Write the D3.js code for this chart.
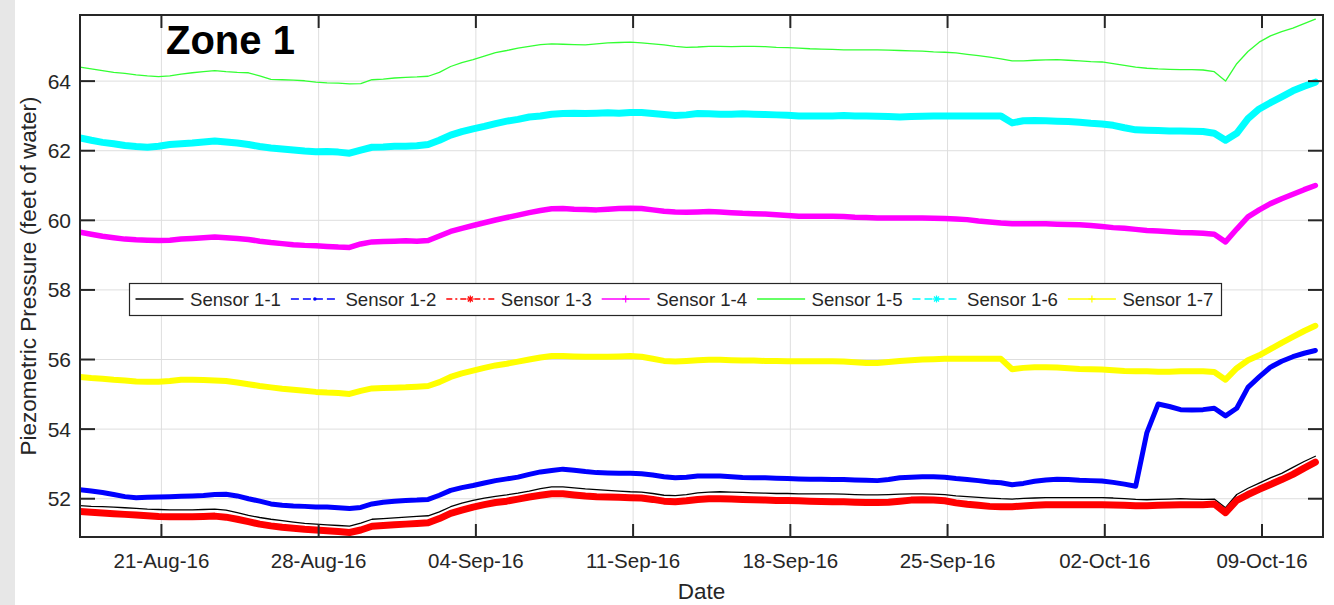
<!DOCTYPE html>
<html>
<head>
<meta charset="utf-8">
<script src="https://cdn.jsdelivr.net/npm/d3@7"></script>
<style>
  html, body { margin: 0; padding: 0; background: #fff; }
  svg { display: block; }
  text { font-family: "Liberation Sans", Arial, Helvetica, sans-serif; }
</style>
</head>
<body>
<svg id="chart" width="1334" height="605"></svg>
<script>
// Piezometric pressure readings, Zone 1, sampled every 12 hours from 17-Aug-2016 09:00
const startTime = Date.UTC(2016, 7, 17, 9, 0);
const stepHours = 12;

const sensorNames = ["Sensor 1-1", "Sensor 1-2", "Sensor 1-3", "Sensor 1-4", "Sensor 1-5", "Sensor 1-6", "Sensor 1-7"];

const sensor1_1 = [51.80,51.78,51.77,51.76,51.74,51.72,51.70,51.69,51.68,51.68,51.68,51.69,51.70,51.67,51.60,51.52,51.46,51.41,51.37,51.33,
  51.29,51.27,51.25,51.23,51.21,51.30,51.41,51.43,51.45,51.47,51.49,51.51,51.62,51.77,51.87,51.95,52.02,52.07,52.11,52.16,
  52.22,52.29,52.34,52.34,52.31,52.28,52.26,52.24,52.22,52.20,52.19,52.15,52.10,52.09,52.12,52.17,52.19,52.20,52.19,52.18,
  52.17,52.16,52.15,52.15,52.14,52.14,52.14,52.14,52.13,52.12,52.11,52.11,52.12,52.13,52.14,52.14,52.13,52.12,52.08,52.06,
  52.04,52.02,52.00,51.99,52.01,52.02,52.03,52.03,52.03,52.03,52.03,52.03,52.02,52.00,51.98,51.97,51.98,51.99,52.00,51.99,
  51.98,51.99,51.74,52.12,52.30,52.45,52.60,52.73,52.90,53.07,53.22];

const sensor1_2 = [52.26,52.22,52.18,52.12,52.06,52.03,52.04,52.05,52.06,52.07,52.08,52.09,52.12,52.13,52.08,52.00,51.93,51.85,51.81,51.79,
  51.78,51.76,51.76,51.74,51.72,51.75,51.85,51.90,51.93,51.95,51.96,51.98,52.10,52.24,52.32,52.38,52.45,52.52,52.57,52.62,
  52.70,52.77,52.81,52.85,52.82,52.78,52.75,52.74,52.73,52.73,52.72,52.68,52.63,52.60,52.62,52.65,52.65,52.65,52.63,52.61,
  52.60,52.60,52.59,52.58,52.57,52.56,52.56,52.55,52.55,52.54,52.53,52.52,52.55,52.60,52.62,52.63,52.63,52.62,52.58,52.55,
  52.52,52.48,52.46,52.40,52.44,52.50,52.54,52.56,52.55,52.53,52.52,52.51,52.47,52.42,52.36,53.90,54.72,54.65,54.56,54.55,
  54.56,54.60,54.38,54.60,55.20,55.50,55.78,55.95,56.08,56.18,56.26];

const sensor1_3 = [51.63,51.61,51.59,51.57,51.55,51.53,51.51,51.49,51.48,51.48,51.48,51.49,51.50,51.47,51.41,51.34,51.27,51.22,51.18,51.15,
  51.12,51.10,51.08,51.06,51.03,51.10,51.21,51.23,51.25,51.27,51.29,51.31,51.43,51.58,51.67,51.76,51.83,51.89,51.93,51.99,
  52.05,52.10,52.14,52.14,52.11,52.08,52.06,52.05,52.04,52.03,52.02,51.98,51.93,51.91,51.94,51.98,52.00,52.00,51.99,51.98,
  51.97,51.96,51.95,51.95,51.94,51.93,51.92,51.91,51.91,51.90,51.89,51.89,51.90,51.93,51.96,51.97,51.96,51.94,51.88,51.84,
  51.81,51.78,51.77,51.77,51.79,51.81,51.83,51.83,51.83,51.83,51.83,51.83,51.82,51.81,51.80,51.80,51.81,51.82,51.83,51.83,
  51.83,51.85,51.60,51.95,52.12,52.27,52.41,52.55,52.70,52.88,53.05];

const sensor1_4 = [59.66,59.60,59.54,59.50,59.46,59.44,59.43,59.42,59.43,59.46,59.48,59.50,59.52,59.50,59.48,59.45,59.40,59.36,59.33,59.30,
  59.28,59.27,59.25,59.23,59.22,59.32,59.38,59.39,59.40,59.41,59.40,59.42,59.55,59.68,59.77,59.85,59.93,60.01,60.08,60.15,
  60.22,60.28,60.33,60.34,60.32,60.31,60.30,60.32,60.34,60.35,60.34,60.30,60.26,60.24,60.23,60.24,60.25,60.24,60.22,60.20,
  60.19,60.18,60.16,60.14,60.12,60.12,60.12,60.12,60.11,60.09,60.08,60.07,60.07,60.07,60.07,60.07,60.06,60.05,60.04,60.02,
  59.98,59.95,59.92,59.90,59.90,59.90,59.90,59.89,59.88,59.87,59.85,59.82,59.79,59.77,59.74,59.71,59.69,59.67,59.65,59.64,
  59.63,59.60,59.38,59.75,60.10,60.30,60.48,60.62,60.75,60.88,61.00];

const sensor1_5 = [64.40,64.35,64.30,64.25,64.22,64.18,64.15,64.13,64.15,64.20,64.24,64.27,64.30,64.27,64.25,64.24,64.15,64.05,64.04,64.03,
  64.01,63.97,63.95,63.94,63.92,63.93,64.04,64.06,64.09,64.11,64.12,64.14,64.25,64.42,64.53,64.62,64.72,64.82,64.88,64.95,
  65.00,65.05,65.07,65.06,65.05,65.04,65.07,65.10,65.11,65.12,65.10,65.07,65.04,65.00,64.97,64.98,65.00,65.00,64.99,65.00,
  65.00,64.99,64.97,64.96,64.95,64.93,64.92,64.91,64.90,64.90,64.90,64.90,64.89,64.88,64.87,64.86,64.84,64.83,64.81,64.77,
  64.73,64.69,64.64,64.58,64.58,64.60,64.61,64.62,64.60,64.58,64.56,64.55,64.50,64.45,64.40,64.37,64.35,64.34,64.33,64.33,
  64.32,64.27,64.00,64.50,64.85,65.12,65.30,65.42,65.52,65.65,65.78];

const sensor1_6 = [62.37,62.30,62.24,62.20,62.15,62.12,62.10,62.13,62.18,62.20,62.22,62.25,62.28,62.25,62.22,62.18,62.12,62.08,62.05,62.02,
  61.99,61.97,61.98,61.96,61.93,62.02,62.10,62.11,62.13,62.13,62.14,62.18,62.30,62.45,62.55,62.63,62.70,62.78,62.85,62.90,
  62.97,63.00,63.05,63.07,63.08,63.07,63.08,63.09,63.08,63.10,63.10,63.07,63.04,63.01,63.03,63.07,63.06,63.05,63.05,63.06,
  63.05,63.04,63.03,63.02,63.00,63.00,63.00,63.00,63.01,63.00,63.00,62.99,62.98,62.97,62.98,62.99,63.00,63.00,63.00,63.00,
  63.00,63.00,63.00,62.80,62.86,62.87,62.86,62.85,62.84,62.82,62.79,62.77,62.73,62.66,62.60,62.59,62.58,62.57,62.57,62.56,
  62.55,62.50,62.30,62.50,62.92,63.20,63.38,63.55,63.72,63.85,63.97];

const sensor1_7 = [55.50,55.47,55.45,55.42,55.40,55.37,55.36,55.36,55.38,55.42,55.42,55.41,55.40,55.38,55.34,55.29,55.24,55.20,55.16,55.13,
  55.10,55.07,55.05,55.04,55.01,55.10,55.17,55.18,55.19,55.20,55.22,55.24,55.35,55.50,55.60,55.68,55.76,55.83,55.88,55.94,
  56.00,56.06,56.10,56.10,56.09,56.08,56.08,56.08,56.09,56.10,56.08,56.02,55.96,55.94,55.96,55.98,55.99,55.99,55.98,55.97,
  55.97,55.96,55.96,55.95,55.95,55.95,55.95,55.95,55.94,55.92,55.90,55.90,55.93,55.96,55.98,56.00,56.01,56.02,56.02,56.02,
  56.02,56.02,56.02,55.72,55.76,55.78,55.78,55.77,55.75,55.73,55.72,55.71,55.69,55.67,55.66,55.66,55.65,55.65,55.66,55.66,
  55.66,55.64,55.42,55.75,55.98,56.12,56.30,56.48,56.65,56.82,56.97];

const yTickValues = [52, 54, 56, 58, 60, 62, 64];
const xTickFormat = "%d-%b-%y";
const zoneTitle = "Zone 1";
const yAxisTitle = "Piezometric Pressure (feet of water)";
const xAxisTitle = "Date";

// Drawing
const svg = d3.select("#chart");
const W = 1334, H = 605;
const plot = { left: 80, right: 1323, top: 15, bottom: 537 };
const ink = "#262626";

svg.append("rect").attr("x", 0).attr("y", 0).attr("width", W).attr("height", H).attr("fill", "#fff");
svg.append("rect").attr("x", 0).attr("y", 0).attr("width", 15).attr("height", H).attr("fill", "#e7e7e7");

const x = d3.scaleUtc()
  .domain([new Date(Date.UTC(2016, 7, 17, 9, 0)), new Date(Date.UTC(2016, 9, 11, 17, 10))])
  .range([plot.left, plot.right]);
const y = d3.scaleLinear().domain([50.9, 65.9]).range([plot.bottom, plot.top]);

const xTicks = x.ticks(d3.utcSunday.every(1));

// Grid
const grid = svg.append("g").attr("stroke", "#dedede").attr("stroke-width", 1);
xTicks.forEach(t => {
  grid.append("line").attr("x1", x(t)).attr("x2", x(t)).attr("y1", plot.top).attr("y2", plot.bottom);
});
yTickValues.forEach(v => {
  grid.append("line").attr("x1", plot.left).attr("x2", plot.right).attr("y1", y(v)).attr("y2", y(v));
});

// Series
const series = [
  { name: sensorNames[0], values: sensor1_1, color: "#000000", width: 1.3 },
  { name: sensorNames[1], values: sensor1_2, color: "#0000ff", width: 5 },
  { name: sensorNames[2], values: sensor1_3, color: "#ff0000", width: 7 },
  { name: sensorNames[3], values: sensor1_4, color: "#ff00ff", width: 5.5 },
  { name: sensorNames[4], values: sensor1_5, color: "#33ff33", width: 1.3 },
  { name: sensorNames[5], values: sensor1_6, color: "#00ffff", width: 7 },
  { name: sensorNames[6], values: sensor1_7, color: "#ffff00", width: 6 }
];

svg.append("clipPath").attr("id", "plotClip").append("rect")
  .attr("x", plot.left).attr("y", plot.top)
  .attr("width", plot.right - plot.left).attr("height", plot.bottom - plot.top);

const line = d3.line()
  .defined(d => d.v != null)
  .x(d => x(d.t))
  .y(d => y(d.v));

const lines = svg.append("g").attr("clip-path", "url(#plotClip)");
series.forEach(s => {
  const pts = s.values.map((v, i) => ({ t: new Date(startTime + i * stepHours * 3600e3), v }));
  lines.append("path")
    .datum(pts)
    .attr("d", line)
    .attr("fill", "none")
    .attr("stroke", s.color)
    .attr("stroke-width", s.width)
    .attr("stroke-linejoin", "round")
    .attr("stroke-linecap", "round");
});

// Axes box and ticks
const axes = svg.append("g").attr("stroke", ink).attr("stroke-width", 2);
xTicks.forEach(t => {
  axes.append("line").attr("x1", x(t)).attr("x2", x(t)).attr("y1", plot.bottom).attr("y2", plot.bottom - 13);
  axes.append("line").attr("x1", x(t)).attr("x2", x(t)).attr("y1", plot.top).attr("y2", plot.top + 13);
});
yTickValues.forEach(v => {
  axes.append("line").attr("x1", plot.left).attr("x2", plot.left + 15).attr("y1", y(v)).attr("y2", y(v));
  axes.append("line").attr("x1", plot.right).attr("x2", plot.right - 15).attr("y1", y(v)).attr("y2", y(v));
});
axes.append("rect")
  .attr("x", plot.left).attr("y", plot.top)
  .attr("width", plot.right - plot.left).attr("height", plot.bottom - plot.top)
  .attr("fill", "none");

// Tick labels
const fmt = d3.utcFormat(xTickFormat);
svg.append("g").selectAll("text").data(xTicks).join("text")
  .attr("x", d => x(d)).attr("y", 568)
  .attr("text-anchor", "middle")
  .attr("font-size", 20.5).attr("fill", ink)
  .text(d => fmt(d));

svg.append("g").selectAll("text").data(yTickValues).join("text")
  .attr("x", 71).attr("y", d => y(d))
  .attr("dy", "0.36em")
  .attr("text-anchor", "end")
  .attr("font-size", 21).attr("fill", ink)
  .text(d => d);

// Axis titles
svg.append("text")
  .attr("transform", `translate(36,${(plot.top + plot.bottom) / 2}) rotate(-90)`)
  .attr("text-anchor", "middle")
  .attr("font-size", 22.5).attr("fill", ink)
  .text(yAxisTitle);

svg.append("text")
  .attr("x", (plot.left + plot.right) / 2).attr("y", 599)
  .attr("text-anchor", "middle")
  .attr("font-size", 22.5).attr("fill", ink)
  .text(xAxisTitle);

// Zone title
svg.append("text")
  .attr("x", 166).attr("y", 54)
  .attr("font-family", "'Open Sans', sans-serif")
  .attr("font-weight", 700)
  .attr("font-size", 40).attr("fill", "#000")
  .text(zoneTitle);

// Legend
const legend = svg.append("g");
legend.append("rect")
  .attr("x", 129.5).attr("y", 283.5).attr("width", 1092).attr("height", 32)
  .attr("fill", "#fff").attr("stroke", ink).attr("stroke-width", 1.2);

const legendStyle = [
  { dash: null, marker: null },
  { dash: "8,4", marker: "dot" },
  { dash: "6,3,2,3", marker: "star" },
  { dash: null, marker: "plus" },
  { dash: null, marker: null },
  { dash: "8,4", marker: "star" },
  { dash: null, marker: "plus" }
];

series.forEach((s, k) => {
  const x0 = 135.5 + k * 155.4, ly = 299;
  const g = legend.append("g");
  g.append("line")
    .attr("x1", x0).attr("x2", x0 + 48).attr("y1", ly).attr("y2", ly)
    .attr("stroke", s.color)
    .attr("stroke-width", 1.5)
    .attr("stroke-dasharray", legendStyle[k].dash);
  const cx = x0 + 24;
  const m = legendStyle[k].marker;
  if (m === "dot") {
    g.append("circle").attr("cx", cx).attr("cy", ly).attr("r", 1.8).attr("fill", s.color);
  } else if (m === "plus" || m === "star") {
    const p = g.append("g").attr("stroke", s.color).attr("stroke-width", 1.2);
    p.append("line").attr("x1", cx - 3.5).attr("x2", cx + 3.5).attr("y1", ly).attr("y2", ly);
    p.append("line").attr("x1", cx).attr("x2", cx).attr("y1", ly - 3.5).attr("y2", ly + 3.5);
    if (m === "star") {
      p.append("line").attr("x1", cx - 2.5).attr("x2", cx + 2.5).attr("y1", ly - 2.5).attr("y2", ly + 2.5);
      p.append("line").attr("x1", cx - 2.5).attr("x2", cx + 2.5).attr("y1", ly + 2.5).attr("y2", ly - 2.5);
    }
  }
  g.append("text")
    .attr("x", x0 + 54.5).attr("y", 306)
    .attr("font-size", 18.6).attr("fill", ink)
    .text(s.name);
});
</script>
</body>
</html>
